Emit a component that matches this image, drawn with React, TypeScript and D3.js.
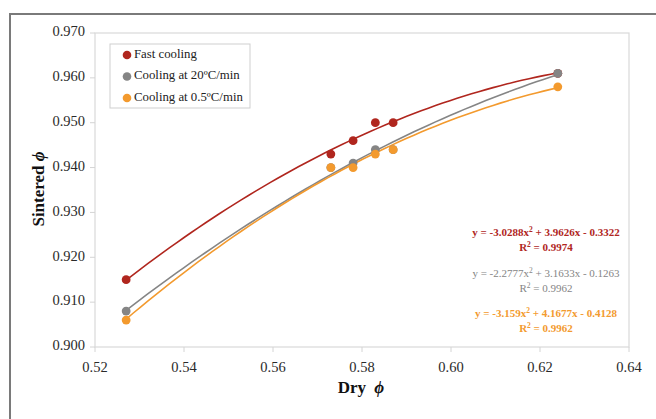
import { useMemo } from "react";
import * as d3 from "d3";

const WIDTH = 656;
const HEIGHT = 419;
const MARGIN = { top: 33, right: 27, bottom: 72, left: 95 };

// data
const fastX = [0.527, 0.573, 0.578, 0.583, 0.587, 0.624];
const fastY = [0.915, 0.943, 0.946, 0.950, 0.950, 0.961];
const cool20X = [0.527, 0.573, 0.578, 0.583, 0.587, 0.624];
const cool20Y = [0.908, 0.940, 0.941, 0.944, 0.944, 0.961];
const cool05X = [0.527, 0.573, 0.578, 0.583, 0.587, 0.624];
const cool05Y = [0.906, 0.940, 0.940, 0.943, 0.944, 0.958];

// trendline coefficients (a, b, c) as printed on the chart
const fastFit = [-3.0288, 3.9626, -0.3322];
const cool20Fit = [-2.2777, 3.1633, -0.1263];
const cool05Fit = [-3.159, 4.1677, -0.4128];

const seriesNames = ["Fast cooling", "Cooling at 20ºC/min", "Cooling at 0.5ºC/min"];
const seriesColors = ["#b0261e", "#858585", "#f39a2e"];
const eqLines = [
  ["y = -3.0288x", " + 3.9626x - 0.3322", "R", " = 0.9974"],
  ["y = -2.2777x", " + 3.1633x - 0.1263", "R", " = 0.9962"],
  ["y = -3.159x", " + 4.1677x - 0.4128", "R", " = 0.9962"],
];

const xTicks = [0.52, 0.54, 0.56, 0.58, 0.6, 0.62, 0.64];
const yTicks = [0.9, 0.91, 0.92, 0.93, 0.94, 0.95, 0.96, 0.97];

const FONT = "'Liberation Serif', 'Times New Roman', serif";

export default function App() {
  const boundsWidth = WIDTH - MARGIN.left - MARGIN.right;
  const boundsHeight = HEIGHT - MARGIN.top - MARGIN.bottom;

  const xScale = useMemo(() => d3.scaleLinear().domain([0.52, 0.64]).range([0, boundsWidth]), [boundsWidth]);
  const yScale = useMemo(() => d3.scaleLinear().domain([0.9, 0.97]).range([boundsHeight, 0]), [boundsHeight]);

  const series = [
    { xs: fastX, ys: fastY, fit: fastFit },
    { xs: cool20X, ys: cool20Y, fit: cool20Fit },
    { xs: cool05X, ys: cool05Y, fit: cool05Fit },
  ];

  const line = d3
    .line<number>()
    .x((d) => xScale(d))
    .curve(d3.curveLinear);

  const trendPaths = series.map((s, i) => {
    const [lo, hi] = d3.extent(s.xs) as [number, number];
    const xs = d3.range(0, 61).map((k) => lo + ((hi - lo) * k) / 60);
    const [a, b, c] = s.fit;
    const path = line.y((x) => yScale(a * x * x + b * x + c))(xs);
    return <path key={i} d={path ?? ""} fill="none" stroke={seriesColors[i]} strokeWidth={1.6} />;
  });

  const points = series.map((s, i) =>
    s.xs.map((x, j) => (
      <circle key={`${i}-${j}`} cx={xScale(x)} cy={yScale(s.ys[j])} r={4.4} fill={seriesColors[i]} />
    ))
  );

  const xLabels = xTicks.map((t, i) => (
    <g key={i}>
      <line x1={xScale(t)} x2={xScale(t)} y1={boundsHeight} y2={boundsHeight + 5} stroke="#d4d4d4" />
      <text x={xScale(t)} y={boundsHeight + 25} textAnchor="middle" fontSize={14.5} fill="#2a2a2a">
        {t.toFixed(2)}
      </text>
    </g>
  ));

  const yLabels = yTicks.map((t, i) => (
    <g key={i}>
      <line x1={-5} x2={0} y1={yScale(t)} y2={yScale(t)} stroke="#d4d4d4" />
      <text x={-10} y={yScale(t)} textAnchor="end" dominantBaseline="middle" fontSize={14.5} fill="#2a2a2a">
        {t.toFixed(3)}
      </text>
    </g>
  ));

  const eqX = 546 - MARGIN.left;
  const eqY = [236, 277, 317].map((v) => v - MARGIN.top);

  return (
    <svg width={WIDTH} height={HEIGHT} style={{ position: "absolute", left: 0, top: 0, fontFamily: FONT }}>
      <rect x={0} y={0} width={WIDTH} height={HEIGHT} fill="white" />
      <rect x={10} y={14} width={700} height={500} fill="none" stroke="#7a7a7a" strokeWidth={2} />
      <g transform={`translate(${[MARGIN.left, MARGIN.top].join(",")})`}>
        <rect x={0} y={0} width={boundsWidth} height={boundsHeight} fill="none" stroke="#d9d9d9" strokeWidth={1.2} />
        {trendPaths}
        {points}
        {xLabels}
        {yLabels}

        {/* legend */}
        <rect x={15} y={11} width={140} height={64} fill="white" stroke="#cfcfcf" />
        {seriesNames.map((name, i) => (
          <g key={i} transform={`translate(32,${22 + i * 21.5})`}>
            <circle cx={0} cy={0} r={4.3} fill={seriesColors[i]} />
            <text x={7} y={0} dominantBaseline="middle" fontSize={12.8} fill="#222">
              {name}
            </text>
          </g>
        ))}

        {/* trendline equations */}
        {eqLines.map((eq, i) => (
          <g key={i} fill={seriesColors[i]} fontSize={11} fontWeight={i === 1 ? "normal" : "bold"} textAnchor="middle">
            <text x={eqX} y={eqY[i]}>
              {eq[0]}
              <tspan dy={-4} fontSize={7.5}>2</tspan>
              <tspan dy={4}>{eq[1]}</tspan>
            </text>
            <text x={eqX} y={eqY[i] + 15}>
              {eq[2]}
              <tspan dy={-4} fontSize={7.5}>2</tspan>
              <tspan dy={4}>{eq[3]}</tspan>
            </text>
          </g>
        ))}
      </g>

      {/* axis titles */}
      <text x={361} y={393} textAnchor="middle" fontSize={17} fontWeight="bold" fill="#111">
        Dry <tspan fontStyle="italic" dx={4}>ϕ</tspan>
      </text>
      <text
        transform={`translate(44,${MARGIN.top + boundsHeight / 2 - 1}) rotate(-90)`}
        textAnchor="middle"
        fontSize={17}
        fontWeight="bold"
        fill="#111"
      >
        Sintered <tspan fontStyle="italic">ϕ</tspan>
      </text>
    </svg>
  );
}
